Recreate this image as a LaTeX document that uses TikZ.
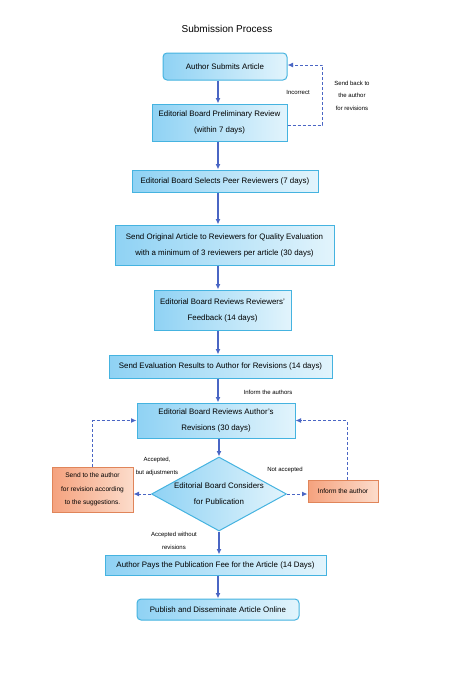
\documentclass[tikz,border=0pt]{standalone}
\usepackage{fontspec}
\setmainfont{Liberation Sans}
\usetikzlibrary{shapes.geometric,arrows.meta,calc}
\definecolor{boxborder}{HTML}{45B3E0}
\definecolor{blueL}{HTML}{8FD2F4}
\definecolor{blueR}{HTML}{E2F4FC}
\definecolor{arrowc}{HTML}{4A66C4}
\definecolor{orgborder}{HTML}{E0855A}
\definecolor{orgL}{HTML}{F5A27E}
\definecolor{orgR}{HTML}{FCDCCB}
\tikzset{
  bluebox/.style={draw=boxborder, line width=1pt, left color=blueL, right color=blueR,
    align=center, inner sep=0pt, font=\fontsize{7.9}{16}\selectfont},
  orgbox/.style={draw=orgborder, line width=1pt, left color=orgL, right color=orgR,
    align=center, inner sep=0pt, font=\fontsize{6.6}{13.5}\selectfont},
  flow/.style={draw=arrowc, line width=1.2pt, -{Latex[length=5.5pt,width=5pt]}},
  back/.style={draw=arrowc, line width=1pt, dash pattern=on 3pt off 2pt, -{Latex[length=5.5pt,width=5pt]}},
  lbl/.style={font=\fontsize{6}{12.5}\selectfont, align=center, inner sep=0pt},
}
\begin{document}
\begin{tikzpicture}[x=1pt,y=-1pt]
\useasboundingbox (0,0) rectangle (474,688);
\node[font=\fontsize{10}{12}\selectfont] (title) at (227,29) {Submission Process};
\coordinate (ax) at (218,0);

\node[bluebox, rounded corners=4pt, minimum width=124pt, minimum height=27pt] (b1) at (225,66.5) {Author Submits Article};
\node[bluebox, minimum width=135pt, minimum height=37pt] (b2) at (219.5,122.5) {Editorial Board Preliminary Review\\(within 7 days)};
\node[bluebox, minimum width=186pt, minimum height=22pt] (b3) at (225,181) {Editorial Board Selects Peer Reviewers (7 days)};
\node[bluebox, minimum width=219pt, minimum height=40pt] (b4) at (224.5,245) {Send Original Article to Reviewers for Quality Evaluation\\with a minimum of 3 reviewers per article (30 days)};
\node[bluebox, minimum width=137pt, minimum height=40pt] (b5) at (222.5,310) {Editorial Board Reviews Reviewers'\\Feedback (14 days)};
\node[bluebox, minimum width=223pt, minimum height=23pt] (b6) at (220.5,366.5) {Send Evaluation Results to Author for Revisions (14 days)};
\node[bluebox, minimum width=158pt, minimum height=35pt] (b7) at (216,420.5) {Editorial Board Reviews Author's\\Revisions (30 days)};
\node[bluebox, diamond, aspect=1.9, minimum width=135pt, minimum height=74pt] (d) at (219,494) {Editorial Board Considers\\for Publication};
\node[orgbox, minimum width=81pt, minimum height=45pt] (lo) at (92.5,489.5) {Send to the author\\for revision according\\to the suggestions.};
\node[orgbox, minimum width=70pt, minimum height=22pt] (ro) at (343,491) {Inform the author};
\node[bluebox, minimum width=221pt, minimum height=20pt] (b8) at (215.5,565) {Author Pays the Publication Fee for the Article (14 Days)};
\node[bluebox, rounded corners=4pt, minimum width=162pt, minimum height=21pt] (b9) at (218,609.5) {Publish and Disseminate Article Online};

% main flow
\draw[flow] (b1.south -| ax) -- (b2.north -| ax);
\draw[flow] (b2.south -| ax) -- (b3.north -| ax);
\draw[flow] (b3.south -| ax) -- (b4.north -| ax);
\draw[flow] (b4.south -| ax) -- (b5.north -| ax);
\draw[flow] (b5.south -| ax) -- (b6.north -| ax);
\draw[flow] (b6.south -| ax) -- (b7.north -| ax);
\draw[flow] (b7.south -| d.north) -- (d.north);
\draw[flow] (d.south) -- (b8.north -| d.south);
\draw[flow] (b8.south -| ax) -- (b9.north -| ax);

% feedback loops
\draw[back] ($(b2.east)+(0,2.5)$) -| ($(b1.east)+(35,-1.5)$) -- ($(b1.east)+(0,-1.5)$);
\draw[back] (d.west) -- (lo.east |- d.west);
\draw[back] (d.east) -- (ro.west |- d.east);
\draw[back] (lo.north) -- (lo.north |- b7.west) -- (b7.west);
\draw[back] ($(ro.north)+(4,0)$) |- (b7.east);

% labels
\node[lbl] (l1) at (298,92) {Incorrect};
\node[lbl] (l2) at (352,95.5) {Send back to\\the author\\for revisions};
\node[lbl] (l3) at (268,392) {Inform the authors};
\node[lbl] (l4) at (157,466.5) {Accepted,\\but adjustments};
\node[lbl] (l5) at (285,470) {Not accepted};
\node[lbl] (l6) at (174,541) {Accepted without\\revisions};
\end{tikzpicture}
\end{document}
